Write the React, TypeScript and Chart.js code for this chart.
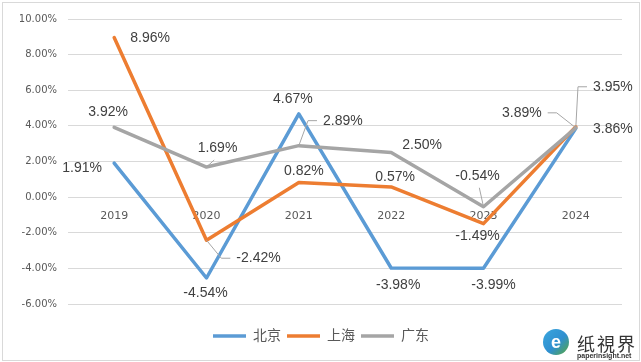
import React, { useEffect, useRef } from "react";
import { Chart, registerables } from "chart.js";

Chart.register(...registerables);

// ---------- data ----------
const categories = ["2019", "2020", "2021", "2022", "2023", "2024"];
const seriesNames = ["北京", "上海", "广东"];
const beijing = [1.91, -4.54, 4.67, -3.98, -3.99, 3.86];
const shanghai = [8.96, -2.42, 0.82, 0.57, -1.49, 3.95];
const guangdong = [3.92, 1.69, 2.89, 2.5, -0.54, 3.89];
const yMin = -6;
const yMax = 10;
const yStep = 2;

// ---------- styles ----------
const colors = ["#5b9bd5", "#ed7d31", "#a5a5a5"];
type Place = [number, number, string?];
// label offsets relative to each point (dx, dy, leader type)
const labelPlaces: Place[][] = [
  [[-32, 5], [-1, 15], [-6, -15], [7, 17], [10, 17], [37, 1]],
  [[36, 1], [52, 18, "side"], [5, -11], [4, -10], [-6, 12], [37, -40, "side"]],
  [[-6, -15], [11, -19, "bottom"], [44, -25, "side"], [31, -7], [-6, -31, "bottom"], [-54, -15, "side"]],
];
const FONT = '"Liberation Sans", "Noto Sans CJK SC", sans-serif';
const TICK_FONT = '"DejaVu Sans", sans-serif';

const labelPlugin = {
  id: "pointLabels",
  afterDatasetsDraw(chart: any) {
    const ctx = chart.ctx as CanvasRenderingContext2D;
    ctx.save();
    ctx.font = `14px ${FONT}`;
    ctx.textAlign = "center";
    ctx.textBaseline = "middle";
    chart.data.datasets.forEach((ds: any, di: number) => {
      const meta = chart.getDatasetMeta(di);
      meta.data.forEach((el: any, i: number) => {
        const v = ds.data[i] as number;
        const text = v.toFixed(2) + "%";
        const [dx, dy, leader] = labelPlaces[di][i];
        const px = el.x;
        const py = el.y;
        const lx = px + dx;
        const ly = py + dy;
        const w = ctx.measureText(text).width;
        if (leader) {
          ctx.strokeStyle = "#a6a6a6";
          ctx.lineWidth = 1;
          ctx.beginPath();
          ctx.moveTo(px, py);
          if (leader === "side") {
            const dir = dx > 0 ? 1 : -1;
            const edge = lx - (dir * w) / 2;
            ctx.lineTo(edge - dir * 15, ly);
            ctx.lineTo(edge - dir * 6, ly);
          } else {
            ctx.lineTo(lx + (px - lx) * 0.3, ly + 12);
          }
          ctx.stroke();
        }
        ctx.fillStyle = "#404040";
        ctx.fillText(text, lx, ly);
      });
    });
    ctx.restore();
  },
};

export default function App() {
  const canvasRef = useRef<HTMLCanvasElement | null>(null);

  useEffect(() => {
    document.body.style.margin = "0";
    const canvas = canvasRef.current;
    if (!canvas) return;
    const seriesData = [beijing, shanghai, guangdong];
    const chart = new Chart(canvas, {
      type: "line",
      data: {
        labels: categories,
        datasets: seriesNames.map((name, i) => ({
          label: name,
          data: seriesData[i],
          borderColor: colors[i],
          backgroundColor: colors[i],
          borderWidth: 3.5,
          pointRadius: 0,
          pointHoverRadius: 0,
          tension: 0,
          borderJoinStyle: "round" as const,
          borderCapStyle: "round" as const,
          order: 2 - i,
        })),
      },
      options: {
        responsive: false,
        animation: false,
        devicePixelRatio: 1,
        layout: { padding: { top: 19, right: 19, left: 20, bottom: 9 } },
        plugins: {
          tooltip: { enabled: false },
          legend: {
            position: "bottom",
            title: { display: true, text: "", font: { size: 10 }, padding: { top: 7, bottom: 0 } },
            labels: {
              usePointStyle: true,
              pointStyle: "line",
              pointStyleWidth: 33,
              padding: 6,
              color: "#595959",
              font: { size: 14, family: FONT },
              sort: (a: any, b: any) => a.datasetIndex - b.datasetIndex,
            },
          },
        },
        scales: {
          x: {
            type: "category",
            offset: true,
            position: { y: 0 } as any,
            grid: { display: false, drawTicks: false },
            border: { display: false },
            ticks: {
              color: "#595959",
              font: { size: 11, family: TICK_FONT },
              padding: 12.5,
              maxRotation: 0,
            },
          },
          y: {
            min: yMin,
            max: yMax,
            afterFit: (scale: any) => {
              scale.width = 48;
            },
            grid: { color: "#d9d9d9", lineWidth: 1, drawTicks: false },
            border: { display: false },
            ticks: {
              stepSize: yStep,
              color: "#595959",
              font: { size: 10, family: TICK_FONT },
              padding: 11,
              callback: (v: any) => Number(v).toFixed(2) + "%",
            },
          },
        },
      },
      plugins: [labelPlugin],
    });
    return () => chart.destroy();
  }, []);

  return (
    <div style={{ position: "relative", width: 641, height: 362, background: "#fff" }}>
      <canvas ref={canvasRef} width={641} height={362} style={{ display: "block" }} />
      <div
        style={{
          position: "absolute",
          left: 2,
          top: 2,
          width: 638,
          height: 359,
          boxSizing: "border-box",
          border: "1px solid #d9d9d9",
          pointerEvents: "none",
        }}
      />
      <div
        style={{
          position: "absolute",
          left: 543,
          top: 329,
          width: 26,
          height: 26,
          borderRadius: "50%",
          background: "linear-gradient(135deg, #3aa6dd 0%, #2f8fd0 55%, #5aa83a 100%)",
          color: "#fff",
          fontFamily: FONT,
          fontWeight: 700,
          fontSize: 18,
          lineHeight: "26px",
          textAlign: "center",
        }}
      >
        e
      </div>
      <div
        style={{
          position: "absolute",
          left: 577,
          top: 333,
          fontFamily: '"Noto Sans CJK SC", sans-serif',
          fontSize: 18,
          lineHeight: "20px",
          color: "#333",
          letterSpacing: 2,
        }}
      >
        纸視界
      </div>
      <div
        style={{
          position: "absolute",
          left: 577,
          top: 352,
          fontFamily: FONT,
          fontSize: 7,
          lineHeight: "8px",
          fontWeight: 700,
          color: "#333",
        }}
      >
        paperinsight.net
      </div>
    </div>
  );
}
